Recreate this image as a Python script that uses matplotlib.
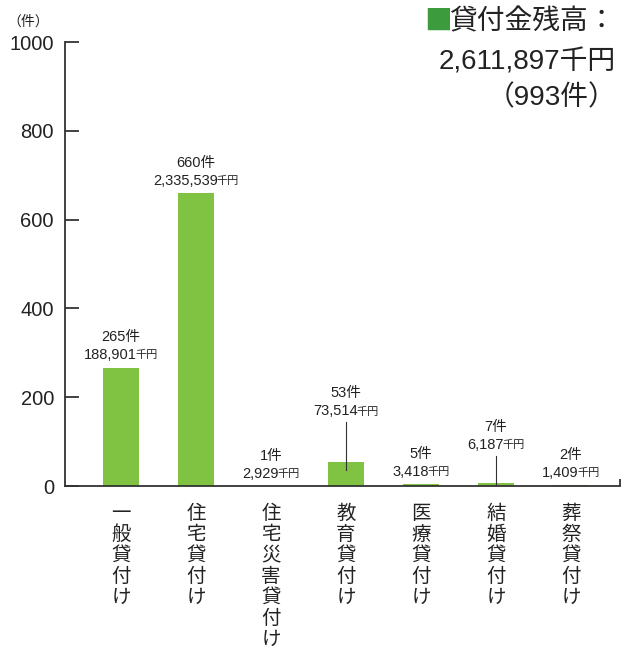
import numpy as np
import matplotlib
matplotlib.use('Agg')
import matplotlib.pyplot as plt

plt.rcParams['font.family'] = ['Liberation Sans', 'Noto Sans CJK JP']

categories = ['一般貸付け', '住宅貸付け', '住宅災害貸付け', '教育貸付け', '医療貸付け', '結婚貸付け', '葬祭貸付け']
counts = [265, 660, 1, 53, 5, 7, 2]
amounts = ['188,901', '2,335,539', '2,929', '73,514', '3,418', '6,187', '1,409']
yticks = [0, 200, 400, 600, 800, 1000]
total_amount = '2,611,897'
total_count = 993

# label offsets above bar top (px) for the amount line; leader line (top, bottom) in px
lab_off = [13, 12, 12, 51, 12, 38, 12]
leader = [None, None, None, (40, -8), None, (27, -2), None]

txt = '#222222'
bar_col = '#80c241'
cjk = ['Noto Sans CJK JP']
dpi = 100
fig = plt.figure(figsize=(6.21, 6.46), dpi=dpi)
W, H = 621, 646
ax = fig.add_axes([65 / W, 1 - 486 / H, (620 - 65) / W, (486 - 42) / H])

x = np.arange(len(categories))
ax.bar(x, counts, width=0.48, color=bar_col, zorder=2)
ax.set_xlim(-0.747, 6.653)
ax.set_ylim(0, 1000)

for s in ['top', 'right']:
    ax.spines[s].set_visible(False)
for s in ['left', 'bottom']:
    ax.spines[s].set_linewidth(1.3)
    ax.spines[s].set_color('#333333')

ax.set_yticks(yticks)
ax.set_yticklabels([str(v) for v in yticks], fontsize=14.5, color=txt)
ax.tick_params(axis='y', direction='in', length=10, width=1.3, pad=8, color='#333333')
ax.set_xticks(x)
ax.set_xticklabels(['\n'.join(c) for c in categories], fontsize=14, color=txt,
                   linespacing=1.0, va='top', family=cjk)
ax.tick_params(axis='x', length=0, pad=12)
ax.set_xticks([6.653], minor=True)
ax.tick_params(axis='x', which='minor', direction='in', length=5, width=1.3, color='#333333')

pt = 72 / dpi
pairs = []
for i, (c, a) in enumerate(zip(counts, amounts)):
    off = lab_off[i]
    ax.annotate(f'{c}件', xy=(i, c), xytext=(0, (off + 18) * pt), textcoords='offset points',
                ha='center', va='center', fontsize=10.5, color=txt)
    t1 = ax.annotate(a, xy=(i, c), xytext=(0, off * pt), textcoords='offset points',
                     ha='right', va='center', fontsize=10.5, color=txt)
    t2 = ax.annotate('千円', xy=(i, c), xytext=(0, off * pt), textcoords='offset points',
                     ha='left', va='center', fontsize=8, color=txt)
    pairs.append((t1, t2, off))
    if leader[i] is not None:
        top, bot = leader[i]
        y0 = c + bot / 0.444
        y1 = c + top / 0.444
        ax.plot([i, i], [y0, y1], color='#333333', lw=0.8, zorder=3)

fig.text(28 / W, 1 - 22 / H, '（件）', fontsize=10, color=txt, ha='center', va='center')

title = fig.text(616 / W, 1 - 22 / H, '貸付金残高：', fontsize=20, color=txt, ha='right', va='center')
fig.text(616 / W, 1 - 62 / H, f'{total_amount}千円', fontsize=20, color=txt, ha='right', va='center')
fig.text(616 / W, 1 - 98 / H, f'（{total_count}件）', fontsize=20, color=txt, ha='right', va='center')

fig.canvas.draw()
r = fig.canvas.get_renderer()
gap = 1.5
for t1, t2, off in pairs:
    w1 = t1.get_window_extent(r).width
    w2 = t2.get_window_extent(r).width - gap
    s = (w1 - w2) / 2
    t1.xyann = (s * pt, off * pt)
    t2.xyann = ((s - gap) * pt, off * pt)
x0 = title.get_window_extent(r).x0
fig.text((x0 + 2) / W, 1 - 22 / H, '■', fontsize=20, color='#3c9b3c', ha='right', va='center',
         family=cjk)

fig.savefig('out.png', dpi=dpi)
